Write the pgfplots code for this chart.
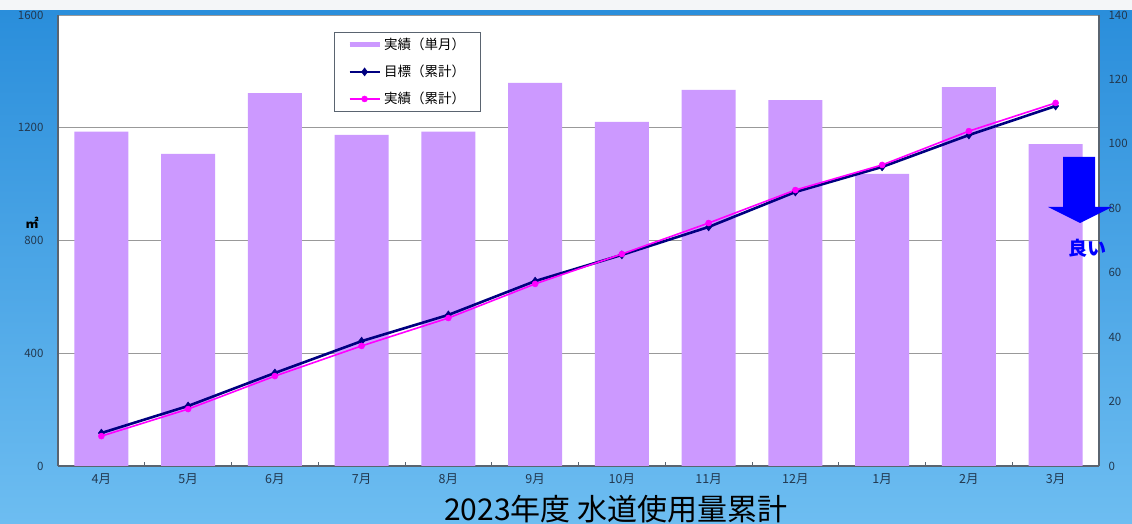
\documentclass[border=0pt]{standalone}
\usepackage{pgfplots}
\pgfplotsset{compat=1.18}
\usepackage{fontspec}
\setmainfont{Noto Sans CJK JP}
\definecolor{barc}{HTML}{CC99FF}
\definecolor{navyc}{HTML}{000080}
\definecolor{magc}{HTML}{FF00FF}
\definecolor{bgtop}{HTML}{2A8EDB}
\definecolor{bgbot}{HTML}{6DBDF1}
\definecolor{tickc}{HTML}{22384F}
\definecolor{axc}{HTML}{5A6470}
\definecolor{topband}{HTML}{F4F6F8}
\begin{document}
\begin{tikzpicture}
\useasboundingbox (0pt,0pt) rectangle (1132pt,524pt);
\fill[topband] (0pt,513pt) rectangle (1132pt,524pt);
\shade[top color=bgtop, bottom color=bgbot] (0pt,0pt) rectangle (1132pt,513pt);
\begin{axis}[
  at={(58pt,58pt)}, anchor=south west, scale only axis,
  width=1041pt, height=451pt,
  xmin=-0.5, xmax=11.5, ymin=0, ymax=1600,
  ytick={0,400,...,1600},
  xtick={0,...,11},
  xticklabels={4月,5月,6月,7月,8月,9月,10月,11月,12月,1月,2月,3月},
  minor xtick={0.5,1.5,...,10.5},
  major x tick style={draw=none},
  minor x tick style={axc, line width=0.6pt},
  minor tick length=4pt,
  tick align=inside,
  ytick style={draw=none},
  ymajorgrids, grid style={gray!80, line width=0.8pt},
  axis x line*=bottom, axis y line*=left,
  axis line style={axc, line width=1.3pt},
  axis background/.style={fill=white},
  /pgf/number format/assume math mode=true,
  /pgf/number format/1000 sep={},
  yticklabel style={font=\fontsize{11.5}{12}\selectfont, color=tickc, xshift=-11pt},
  xticklabel style={font=\fontsize{12.5}{13}\selectfont, color=tickc, yshift=-4pt},
  legend style={at={(0.265,0.962)}, anchor=north west, draw=axc, fill=white,
    font=\fontsize{13.5}{14}\selectfont, row sep=10pt, inner xsep=13pt, inner ysep=4pt},
  legend cell align=left,
  legend image code/.code={\draw[mark repeat=2,mark phase=2,#1] plot coordinates {(0pt,0pt) (15pt,0pt) (30pt,0pt)};},
]
\addplot[ybar, bar width=54pt, fill=barc, draw=none,
  legend image code/.code={\draw[barc, line width=5pt] (0pt,0pt)--(30pt,0pt);}]
  coordinates {(0,1186) (1,1107) (2,1323) (3,1175) (4,1186) (5,1359) (6,1221) (7,1334) (8,1298) (9,1036) (10,1344) (11,1142)};
\addlegendentry{実績（単月）}
\addplot[navyc, line width=2.6pt, mark=diamond*, mark size=4pt, mark options={fill=navyc, line width=0.5pt}]
  coordinates {(0,117) (1,213) (2,330) (3,443) (4,536) (5,656) (6,749) (7,848) (8,972) (9,1061) (10,1174) (11,1277)};
\addlegendentry{目標（累計）}
\addplot[magc, line width=1.6pt, mark=*, mark size=3pt, mark options={fill=magc, line width=0.5pt}]
  coordinates {(0,106) (1,202) (2,319) (3,426) (4,525) (5,646) (6,752) (7,862) (8,979) (9,1068) (10,1188) (11,1288)};
\addlegendentry{実績（累計）}
\end{axis}
\begin{axis}[
  at={(58pt,58pt)}, anchor=south west, scale only axis,
  width=1041pt, height=451pt,
  xmin=-0.5, xmax=11.5, ymin=0, ymax=140,
  ytick={0,20,...,140},
  ytick style={draw=none},
  axis x line=none, axis y line*=right,
  axis line style={axc, line width=1.3pt},
  /pgf/number format/assume math mode=true,
  yticklabel style={font=\fontsize{11.5}{12}\selectfont, color=tickc, xshift=6pt},
]
\end{axis}
\fill[blue] (1063pt,367pt) -- (1095pt,367pt) -- (1095pt,317pt) -- (1112pt,317pt) -- (1080pt,301pt) -- (1048pt,317pt) -- (1063pt,317pt) -- cycle;
\node[text=blue, font=\bfseries\fontsize{19}{20}\selectfont] at (1087pt,276pt) {良い};
\node[text=black, font=\bfseries\fontsize{13}{14}\selectfont] at (32pt,301pt) {㎡};
\node[text=black, font=\fontsize{30}{32}\selectfont] at (616pt,15pt) {2023年度 水道使用量累計};
\end{tikzpicture}
\end{document}
